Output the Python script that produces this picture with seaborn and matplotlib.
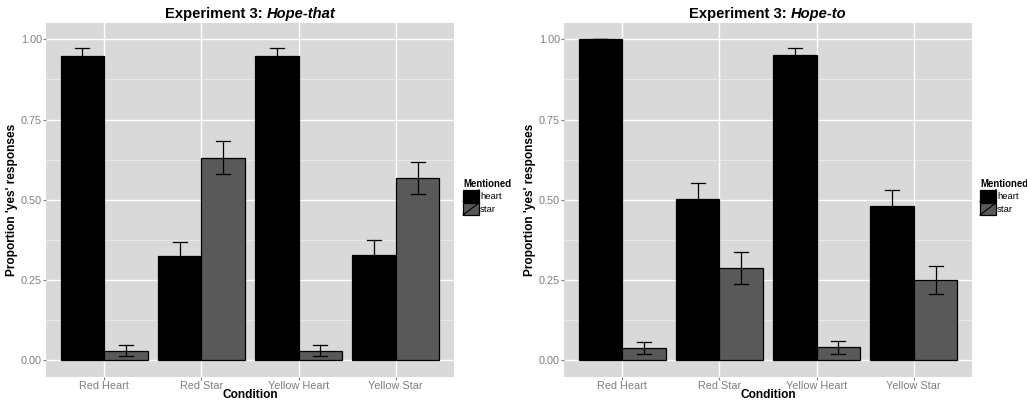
import numpy as np
import pandas as pd
import matplotlib
matplotlib.use("Agg")
import matplotlib.pyplot as plt
import seaborn as sns
from matplotlib.patches import Rectangle, Patch
from matplotlib.lines import Line2D
from matplotlib.legend_handler import HandlerPatch

# ── data ────────────────────────────────────────────────────
conditions = ["Red Heart", "Red Star", "Yellow Heart", "Yellow Star"]
mentioned = ["heart", "star"]

that_heart = [0.949, 0.324, 0.949, 0.327]
that_heart_lo = [0.926, 0.279, 0.926, 0.279]
that_heart_hi = [0.972, 0.369, 0.972, 0.375]
that_star = [0.030, 0.631, 0.030, 0.569]
that_star_lo = [0.0125, 0.579, 0.0125, 0.519]
that_star_hi = [0.049, 0.684, 0.049, 0.619]

to_heart = [1.000, 0.504, 0.951, 0.480]
to_heart_lo = [1.000, 0.455, 0.930, 0.430]
to_heart_hi = [1.000, 0.553, 0.972, 0.530]
to_star = [0.039, 0.2875, 0.040, 0.250]
to_star_lo = [0.020, 0.2375, 0.021, 0.206]
to_star_hi = [0.058, 0.336, 0.060, 0.2925]

yticks = [0.00, 0.25, 0.50, 0.75, 1.00]
colors = {"heart": "#000000", "star": "#595959"}

FONT = "Liberation Sans"
plt.rcParams["font.family"] = [FONT, "DejaVu Sans"]


class SlashHandler(HandlerPatch):
    def create_artists(self, legend, orig_handle, xdescent, ydescent,
                       width, height, fontsize, trans):
        r = Rectangle((-xdescent, -ydescent), width, height,
                      facecolor=orig_handle.get_facecolor(),
                      edgecolor="black", lw=0.9, transform=trans)
        ln = Line2D([-xdescent, -xdescent + width],
                    [-ydescent, -ydescent + height],
                    color="black", lw=0.8, transform=trans)
        return [r, ln]


def make_panel(fig, rect, heart, heart_lo, heart_hi, star, star_lo, star_hi,
               italic, leg_x):
    ax = fig.add_axes(rect)
    df = pd.DataFrame({
        "Condition": conditions * 2,
        "Mentioned": ["heart"] * 4 + ["star"] * 4,
        "value": heart + star,
    })
    sns.barplot(data=df, x="Condition", y="value", hue="Mentioned",
                order=conditions, hue_order=mentioned, palette=colors,
                errorbar=None, width=0.9, gap=0, edgecolor="black",
                linewidth=0.9, saturation=1, ax=ax, legend=False, zorder=3)

    lows = [heart_lo, star_lo]
    highs = [heart_hi, star_hi]
    for cont, lo, hi in zip(ax.containers, lows, highs):
        for bar, l, h in zip(cont, lo, hi):
            xc = bar.get_x() + bar.get_width() / 2
            cw = 0.072
            ax.plot([xc, xc], [l, h], color="black", lw=0.9, zorder=4)
            ax.plot([xc - cw, xc + cw], [h, h], color="black", lw=0.9, zorder=4)
            ax.plot([xc - cw, xc + cw], [l, l], color="black", lw=0.9, zorder=4)

    ax.set_facecolor("#D9D9D9")
    for s in ax.spines.values():
        s.set_visible(False)
    ax.set_xlim(-0.6, 3.6)
    ax.set_ylim(-0.052, 1.051)
    ax.set_yticks(yticks)
    ax.set_yticklabels([f"{t:.2f}" for t in yticks])
    ax.set_yticks([0.125, 0.375, 0.625, 0.875], minor=True)
    ax.grid(True, which="major", color="white", lw=1.0, zorder=0)
    ax.grid(True, which="minor", axis="y", color="#ECECEC", lw=0.6, zorder=0)
    ax.set_axisbelow(True)
    ax.tick_params(axis="both", which="major", length=2.2, width=0.8,
                   color="#7F7F7F", labelcolor="#7F7F7F", labelsize=7.8, pad=0.8)
    ax.tick_params(axis="y", which="minor", length=0)

    ax.set_xlabel("Condition", fontsize=8.6, fontweight="bold")
    ax.set_ylabel("Proportion 'yes' responses", fontsize=8.6, fontweight="bold")
    ax.xaxis.set_label_coords(0.5, -0.034)
    ax.yaxis.set_label_coords(-0.069, 0.5)

    # title: bold part + bold italic part, centred together
    t1 = ax.text(0.5, 1.005, "Experiment 3: ", transform=ax.transAxes,
                 ha="right", va="bottom", fontsize=10.6, fontweight="bold")
    t2 = ax.text(0.5, 1.005, italic, transform=ax.transAxes, ha="left",
                 va="bottom", fontsize=10.6, fontweight="bold", style="italic")
    fig.canvas.draw()
    r = fig.canvas.get_renderer()
    axw = ax.get_window_extent(r).width
    w1 = t1.get_window_extent(r).width / axw
    w2 = t2.get_window_extent(r).width / axw
    shift = (w1 - w2) / 2
    t1.set_x(0.5 + shift)
    t2.set_x(0.5 + shift)

    handles = [Patch(facecolor=colors[m], edgecolor="black", label=m) for m in mentioned]
    fig.legend(handles=handles, title="Mentioned", loc="upper left",
               bbox_to_anchor=(leg_x, 0.553), frameon=False,
               fontsize=6.8, title_fontproperties={"weight": "bold", "size": 6.9},
               handlelength=1.7, handleheight=1.6, handletextpad=0.1,
               labelspacing=0.1, borderpad=0, borderaxespad=0,
               alignment="left",
               handler_map={Patch: SlashHandler()})
    return ax


fig = plt.figure(figsize=(10.27, 4.0), dpi=100)
make_panel(fig, [46 / 1027, 23 / 400, 408 / 1027, 354 / 400],
           that_heart, that_heart_lo, that_heart_hi,
           that_star, that_star_lo, that_star_hi, "Hope-that", 463 / 1027)
make_panel(fig, [564 / 1027, 23 / 400, 408 / 1027, 354 / 400],
           to_heart, to_heart_lo, to_heart_hi,
           to_star, to_star_lo, to_star_hi, "Hope-to", 980 / 1027)

fig.savefig("out.png", dpi=100)
